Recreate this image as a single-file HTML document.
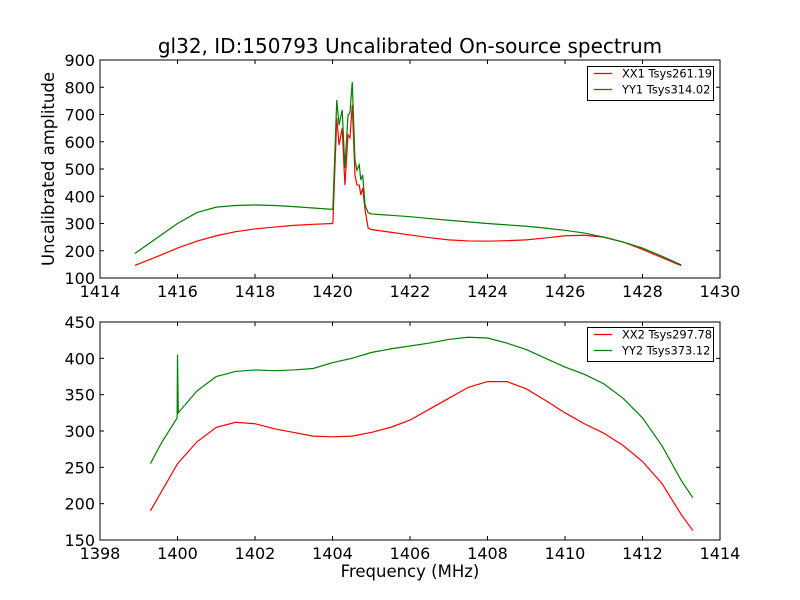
<!DOCTYPE html>
<html><head><meta charset="utf-8"><style>
body{margin:0;background:#fff;}
svg{display:block;font-family:"DejaVu Sans","Liberation Sans",sans-serif;}
</style></head><body>
<svg id="chart" width="800" height="600" viewBox="0 0 800 600" xmlns="http://www.w3.org/2000/svg">
<rect width="800" height="600" fill="#fff"/>
<text x="410" y="53" text-anchor="middle" font-size="20">gl32, ID:150793 Uncalibrated On-source spectrum</text>
<text transform="translate(54,169) rotate(-90)" text-anchor="middle" font-size="16.5">Uncalibrated amplitude</text>
<text x="410" y="577" text-anchor="middle" font-size="16.5">Frequency (MHz)</text>
<g id="top"></g>
<g id="bot"></g>
</svg>
<script>
// Top panel data
const topXTicks=[1414,1416,1418,1420,1422,1424,1426,1428,1430];
const topYTicks=[100,200,300,400,500,600,700,800,900];
const xx1Freq=[1414.9,1415.5,1416,1416.5,1417,1417.5,1418,1418.5,1419,1419.5,1420,1420.01,1420.11,1420.17,1420.25,1420.32,1420.40,1420.45,1420.51,1420.58,1420.63,1420.69,1420.73,1420.78,1420.84,1420.92,1421,1421.5,1422,1422.5,1423,1423.5,1424,1424.5,1425,1425.5,1426,1426.5,1427,1427.5,1428,1428.5,1429];
const xx1Amp=[146,180,210,235,255,270,280,287,293,297,300,302,687,588,650,441,625,614,735,478,441,441,405,430,350,283,278,268,258,248,240,236,235,237,240,247,255,257,250,232,205,175,145];
const yy1Freq=[1414.9,1415.5,1416,1416.5,1417,1417.5,1418,1418.5,1419,1419.5,1420,1420.01,1420.11,1420.17,1420.25,1420.32,1420.40,1420.45,1420.51,1420.58,1420.63,1420.69,1420.73,1420.78,1420.84,1420.92,1421,1421.5,1422,1422.5,1423,1423.5,1424,1424.5,1425,1425.5,1426,1426.5,1427,1427.5,1428,1428.5,1429];
const yy1Amp=[190,250,300,340,360,366,368,366,362,357,352,357,753,661,717,504,698,706,819,533,496,515,460,478,368,339,335,330,325,318,312,306,300,295,290,283,275,265,250,232,210,180,148];
// Bottom panel data
const botXTicks=[1398,1400,1402,1404,1406,1408,1410,1412,1414];
const botYTicks=[150,200,250,300,350,400,450];
const xx2Freq=[1399.3,1400,1400.5,1401,1401.5,1402,1402.5,1403,1403.5,1404,1404.5,1405,1405.5,1406,1406.5,1407,1407.5,1408,1408.5,1409,1409.5,1410,1410.5,1411,1411.5,1412,1412.5,1413,1413.3];
const xx2Amp=[190,255,285,305,312,310,303,298,293,292,293,298,305,315,330,345,360,368,368,358,342,325,310,297,280,258,228,185,163];
const yy2Freq=[1399.3,1399.6,1399.99,1400.0,1400.02,1400.5,1401,1401.5,1402,1402.5,1403,1403.5,1404,1404.5,1405,1405.5,1406,1406.5,1407,1407.5,1408,1408.5,1409,1409.5,1410,1410.5,1411,1411.5,1412,1412.5,1413,1413.3];
const yy2Amp=[255,285,318,405,325,355,375,382,384,383,384,386,394,400,408,413,417,421,426,429,428,421,412,400,388,378,365,345,318,280,232,208];

const NS="http://www.w3.org/2000/svg";
function mk(tag,attrs,parent){const e=document.createElementNS(NS,tag);for(const k in attrs)e.setAttribute(k,attrs[k]);parent.appendChild(e);return e;}

function panel(g,box,xd,yd,xt,yt,series,legend,pfx){
  const sx=v=>box.x0+(v-xd[0])/(xd[1]-xd[0])*(box.x1-box.x0);
  const sy=v=>box.y1-(v-yd[0])/(yd[1]-yd[0])*(box.y1-box.y0);
  const cp=mk('clipPath',{id:pfx+'clip'},g);
  mk('rect',{x:box.x0,y:box.y0,width:box.x1-box.x0,height:box.y1-box.y0},cp);
  series.forEach(s=>{
    const pts=s.f.map((f,i)=>sx(f).toFixed(2)+','+sy(s.a[i]).toFixed(2)).join(' ');
    const pl=mk('polyline',{points:pts,fill:'none',stroke:s.c,'stroke-width':1.2,'clip-path':'url(#'+pfx+'clip)'},g);
    
    
  });
  const fr=mk('rect',{x:box.x0,y:box.y0,width:box.x1-box.x0,height:box.y1-box.y0,fill:'none',stroke:'#000','stroke-width':1},g);
  
  
  xt.forEach(v=>{
    const x=sx(v);
    mk('line',{x1:x,x2:x,y1:box.y1,y2:box.y1-4,stroke:'#000'},g);
    mk('line',{x1:x,x2:x,y1:box.y0,y2:box.y0+4,stroke:'#000'},g);
    const t=mk('text',{x:x,y:box.y1+19,'text-anchor':'middle','font-size':16},g);
    t.textContent=v;
    
    
  });
  yt.forEach(v=>{
    const y=sy(v);
    mk('line',{x1:box.x0,x2:box.x0+4,y1:y,y2:y,stroke:'#000'},g);
    mk('line',{x1:box.x1,x2:box.x1-4,y1:y,y2:y,stroke:'#000'},g);
    const t=mk('text',{x:box.x0-5,y:y+6,'text-anchor':'end','font-size':16},g);
    t.textContent=v;
    
    
  });
  const lg=mk('g',{},g);
  
  
  mk('rect',{x:587.5,y:legend.y+0.5,width:126,height:34,fill:'#fff',stroke:'#000'},lg);
  series.forEach((s,i)=>{
    const y=legend.y+7.5+i*16;
    mk('line',{x1:594,x2:612,y1:y,y2:y,stroke:s.c,'stroke-width':1.2},lg);
    const t=mk('text',{x:622,y:y+4,'font-size':11.4},lg);
    t.textContent=s.label;
    
    
  });
}
panel(document.getElementById('top'),{x0:100,x1:720,y0:60,y1:278},[1414,1430],[100,900],topXTicks,topYTicks,
  [{f:xx1Freq,a:xx1Amp,c:'#ff0000',name:'xx1',label:'XX1 Tsys261.19'},{f:yy1Freq,a:yy1Amp,c:'#008000',name:'yy1',label:'YY1 Tsys314.02'}],{y:66},'top-');
panel(document.getElementById('bot'),{x0:100,x1:720,y0:322,y1:540},[1398,1414],[150,450],botXTicks,botYTicks,
  [{f:xx2Freq,a:xx2Amp,c:'#ff0000',name:'xx2',label:'XX2 Tsys297.78'},{f:yy2Freq,a:yy2Amp,c:'#008000',name:'yy2',label:'YY2 Tsys373.12'}],{y:327},'bottom-');
</script>
</body></html>
